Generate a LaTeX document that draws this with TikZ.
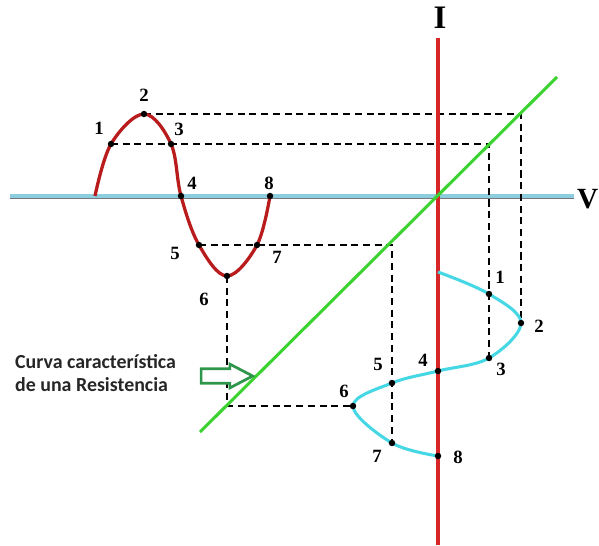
\documentclass[tikz,border=0pt]{standalone}
\usepackage{fontspec}
\setmainfont{Liberation Serif}
\newfontfamily\calfont{Carlito}
\usetikzlibrary{shapes.arrows}
\definecolor{axisred}{RGB}{214,38,40}
\definecolor{sinered}{RGB}{185,28,28}
\definecolor{axisblue}{RGB}{140,206,222}
\definecolor{axisgray}{RGB}{120,120,130}
\definecolor{linegreen}{RGB}{60,210,50}
\definecolor{curvecyan}{RGB}{70,215,228}
\definecolor{arrowgreen}{RGB}{45,150,75}
\tikzset{
  dot/.style={circle, fill=black, inner sep=0pt, minimum size=5.5pt},
  num/.style={font=\bfseries\fontsize{16}{16}\selectfont, inner sep=0pt},
  proj/.style={dash pattern=on 6pt off 4pt, line width=1.6pt},
  axlabel/.style={font=\bfseries\fontsize{28}{28}\selectfont, inner sep=0pt}
}
\begin{document}
\begin{tikzpicture}[x=0.3mm, y=-0.3mm]
\useasboundingbox (0,0) rectangle (599,545);
% points of the voltage wave
\coordinate (r0) at (95,196);
\coordinate (r1) at (111,144);
\coordinate (r2) at (144,114);
\coordinate (r3) at (171,144);
\coordinate (r4) at (181,196);
\coordinate (r5) at (199,245);
\coordinate (r6) at (227,276);
\coordinate (r7) at (257,245);
\coordinate (r8) at (270,196);
% points of the current wave
\coordinate (b0) at (438,272);
\coordinate (b1) at (489,294);
\coordinate (b2) at (521,323);
\coordinate (b3) at (489,358);
\coordinate (b4) at (438,371);
\coordinate (b5) at (392,383);
\coordinate (b6) at (353,406);
\coordinate (b7) at (392,443);
\coordinate (b8) at (438,456);
% axes
\coordinate (vl) at (10,197);
\coordinate (vr) at (574,197);
\coordinate (it) at (438,38);
\coordinate (ib) at (438,545);
\draw[line width=4.2pt, axisgray] (vl) -- (vr);
\draw[line width=2.8pt, axisblue] ([yshift=0.8pt]vl) -- ([yshift=0.8pt]vr);
\node[axlabel, font=\bfseries\fontsize{25}{25}\selectfont, anchor=east] (V) at (598.5,199) {V};
\node[axlabel] (I) at (440,18) {I};
% projections
\draw[proj] (r2) -- (r2 -| b2) -- (b2);
\draw[proj] (r1) -- (r1 -| b1) -- (b3);
\draw[proj] (r5) -- (r5 -| b5) -- (b7);
\draw[proj] (r6) -- (r6 |- b6) -- (b6);
\draw[line width=3.4pt, axisred] (it) -- (ib);
% characteristic line
\coordinate (gA) at (200,432);
\coordinate (gB) at (557,77);
\draw[line width=2.6pt, linegreen] (gA) -- (gB);
% waves
\draw[line width=2.8pt, sinered] plot[smooth, tension=0.6] coordinates {(r0) (r1) (r2) (r3) (r4) (r5) (r6) (r7) (r8)};
\draw[line width=2.6pt, curvecyan] plot[smooth, tension=0.6] coordinates {(b0) (b1) (b2) (b3) (b4) (b5) (b6) (b7) (b8)};
\foreach \p in {r1,r2,r3,r4,r5,r6,r7,r8,b1,b2,b3,b4,b5,b6,b7,b8}
  \node[dot] at (\p) {};
% numbers
\node[num] (n1) at (99,128) {1};
\node[num] (n2) at (144,95) {2};
\node[num] (n3) at (179,129) {3};
\node[num] (n4) at (192,183) {4};
\node[num] (n5) at (175,253) {5};
\node[num] (n6) at (204,299) {6};
\node[num] (n7) at (277,257) {7};
\node[num] (n8) at (269,183) {8};
\node[num] (m1) at (500,277) {1};
\node[num] (m2) at (539,326) {2};
\node[num] (m3) at (501,369) {3};
\node[num] (m4) at (423,360) {4};
\node[num] (m5) at (378,364) {5};
\node[num] (m6) at (344,391) {6};
\node[num] (m7) at (377,456) {7};
\node[num] (m8) at (458,457) {8};
% caption with arrow
\node[font=\calfont\bfseries\fontsize{17}{19}\selectfont, align=left, anchor=west, text=black!85] (txt) at (11,373) {Curva característica\\de una Resistencia};
\node[single arrow, draw=arrowgreen, fill=white, line width=2.3pt, inner sep=5pt, minimum height=44pt, single arrow head extend=4pt, single arrow tip angle=55] (arr) at (220,376) {};
\end{tikzpicture}
\end{document}
